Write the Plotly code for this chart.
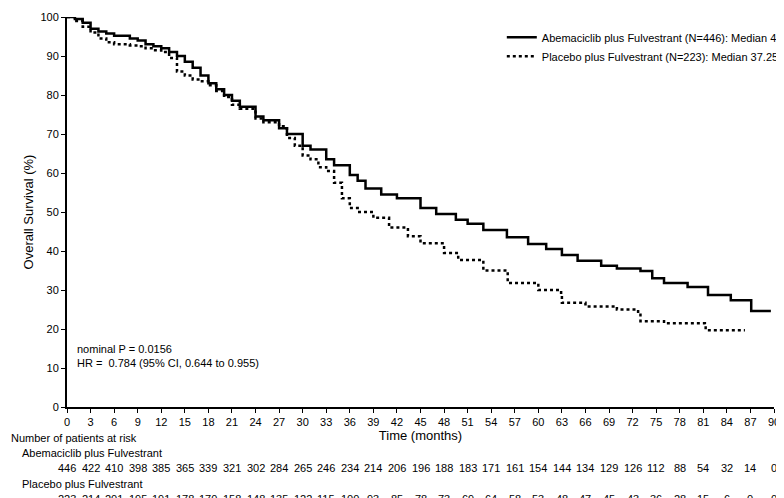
import plotly.graph_objects as go

# Kaplan-Meier curves (months, % alive)
abema_t = [0, 1, 2, 3, 4, 5, 6, 8, 9, 10, 11, 12, 13, 14, 15, 16, 17, 18, 19, 20, 21, 22, 24, 25,
           27, 28, 30, 31, 33, 34, 36, 37, 38, 40, 42, 45, 47, 49.5, 51, 53, 56, 58.7, 61, 63, 65,
           68, 70, 73, 74.5, 76, 79, 81.6, 84.5, 87.1, 89.6]
abema_s = [100, 99.5, 98.5, 97, 96.3, 95.8, 95.2, 94.5, 94, 93, 92.5, 92, 91, 90, 88.5, 87, 85,
           83, 81.5, 80, 78.5, 77, 74.5, 73.5, 71.5, 70, 67, 66, 63.5, 62, 59.5, 58, 56, 54.5,
           53.5, 51, 49.5, 48, 47, 45.4, 43.5, 41.8, 40.5, 39, 37.5, 36.2, 35.5, 34.9, 33, 31.8,
           30.8, 28.7, 27.4, 24.6, 24.6]
placebo_t = [0, 1, 2, 3, 4, 5, 6, 8, 9, 10, 11, 12, 13, 14, 15, 16, 17, 18, 19, 20, 21, 22, 24,
             25, 27, 28, 29, 30, 31, 32, 33, 34, 35, 36, 37, 39, 41, 43.4, 45, 48, 49.8, 53, 56.1,
             60, 62.9, 63, 66, 70, 72.7, 73, 76, 81.2, 81.3, 86.3]
placebo_s = [100, 99, 97.5, 96, 94.5, 93.5, 93, 92.7, 92.5, 92, 91.5, 91, 89.5, 86, 85, 84, 83.5,
             82.5, 81, 79.5, 77.5, 76.5, 74, 73, 72, 69, 67, 64.5, 63.5, 61.5, 60.5, 57.5, 53.5,
             51, 50, 48.5, 46, 43.8, 42, 39.5, 37.7, 35, 31.8, 30, 28.7, 26.7, 25.8, 25, 24, 22,
             21.5, 21, 19.7, 19.7]

risk_months = list(range(0, 91, 3))
abema_risk = [446, 422, 410, 398, 385, 365, 339, 321, 302, 284, 265, 246, 234, 214, 206, 196, 188,
              183, 171, 161, 154, 144, 134, 129, 126, 112, 88, 54, 32, 14, 0]
placebo_risk = [223, 214, 201, 195, 191, 178, 170, 158, 148, 135, 122, 115, 100, 93, 85, 78, 73, 69,
                64, 58, 53, 48, 47, 45, 43, 36, 28, 15, 6, 0, 0]

FONT = "Liberation Sans, Arial, sans-serif"

fig = go.Figure()
fig.add_trace(go.Scatter(x=abema_t, y=abema_s, mode="lines", line_shape="hv",
                         line=dict(color="black", width=2.5),
                         name="Abemaciclib plus Fulvestrant (N=446): Median 45.8 months"))
fig.add_trace(go.Scatter(x=placebo_t, y=placebo_s, mode="lines", line_shape="hv",
                         line=dict(color="black", width=2.5, dash="dot"),
                         name="Placebo plus Fulvestrant (N=223): Median 37.25 months"))

# labels of the risk table, shifted in pixels from the bottom of the plot
ann = [
    dict(x=0, y=0, xref="paper", yref="paper", xshift=-58, yshift=-31, showarrow=False,
         xanchor="left", yanchor="middle", text="Number of patients at risk"),
    dict(x=0, y=0, xref="paper", yref="paper", xshift=-47, yshift=-46, showarrow=False,
         xanchor="left", yanchor="middle", text="Abemaciclib plus Fulvestrant"),
    dict(x=0, y=0, xref="paper", yref="paper", xshift=-47, yshift=-77, showarrow=False,
         xanchor="left", yanchor="middle", text="Placebo plus Fulvestrant"),
]
for m, a, p in zip(risk_months, abema_risk, placebo_risk):
    ann.append(dict(x=m, y=0, xref="x", yref="paper", yshift=-61, yanchor="middle",
                    showarrow=False, text=str(a)))
    ann.append(dict(x=m, y=0, xref="x", yref="paper", yshift=-92, yanchor="middle",
                    showarrow=False, text=str(p)))
ann.append(dict(x=1, y=13, xref="x", yref="y", showarrow=False, xanchor="left",
                text="nominal P = 0.0156<br>HR =  0.784 (95% CI, 0.644 to 0.955)", align="left"))

fig.update_layout(
    width=784, height=498,
    margin=dict(l=59, r=18, t=9, b=99, autoexpand=False),
    paper_bgcolor="white", plot_bgcolor="white",
    font=dict(family=FONT, size=11, color="black"),
    showlegend=True,
    legend=dict(x=0.615, y=0.985, xanchor="left", yanchor="top", bgcolor="rgba(0,0,0,0)",
                font=dict(size=11), tracegroupgap=0, itemwidth=30),
    annotations=ann,
    xaxis=dict(range=[0, 90], tickvals=risk_months, showline=True, linecolor="black", linewidth=2,
               ticks="outside", ticklen=4, tickcolor="black", showgrid=False, zeroline=False,
               automargin=False,
               title=dict(text="Time (months)", font=dict(size=13), standoff=0)),
    yaxis=dict(range=[0, 100], dtick=10, showline=True, linecolor="black", linewidth=2,
               ticks="outside", ticklen=4, tickcolor="black", showgrid=False, zeroline=False,
               automargin=False,
               title=dict(text="Overall Survival (%)", font=dict(size=13), standoff=4)),
)

fig.write_html("out.html")
